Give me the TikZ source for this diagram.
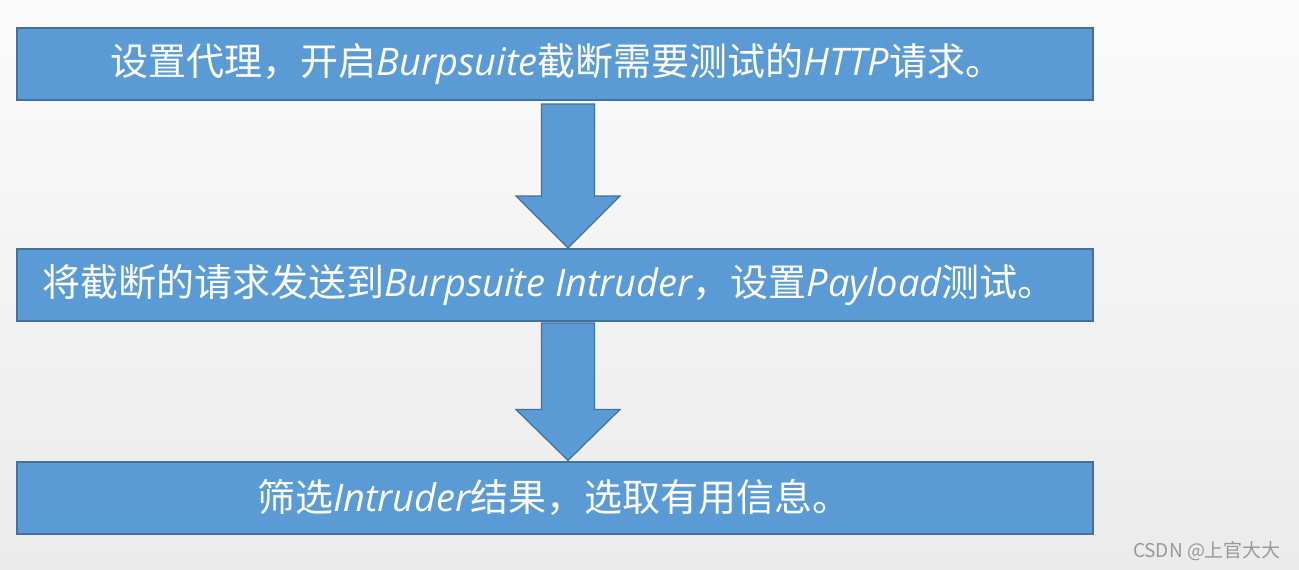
\documentclass[tikz,border=0pt]{standalone}
\usepackage{fontspec}
\setmainfont{Noto Sans CJK SC}
\newfontfamily\enfont{Open Sans}
\newcommand\en[1]{{\enfont\itshape #1}}
\usetikzlibrary{calc}
\definecolor{boxblue}{HTML}{5B9BD5}
\definecolor{boxedge}{HTML}{41719C}
\definecolor{bgtop}{HTML}{FBFBFB}
\definecolor{bgbot}{HTML}{EBEBEB}
\tikzset{
  stepbox/.style={draw=boxedge, line width=2pt, fill=boxblue, minimum width=1076pt, minimum height=72pt, inner sep=0pt, text=white, font=\fontsize{38}{44}\selectfont},
  blockarrow/.style={draw=boxedge, line width=1.2pt, fill=boxblue, line join=miter},
}
\begin{document}
\begin{tikzpicture}[x=1pt,y=-1pt]
\shade[top color=bgtop, middle color=bgtop!60!bgbot, bottom color=bgbot] (0,0) rectangle (1299,570);
\useasboundingbox (0,0) rectangle (1299,570);
\node[stepbox] (t) at (555,64) {\hspace*{4pt}设置代理，开启\en{Burpsuite}截断需要测试的\en{HTTP}请求。};
\node[stepbox] (m) at (555,285) {\hspace*{-12pt}将截断的请求发送到\en{Burpsuite Intruder}，设置\en{Payload}测试。};
\node[stepbox] (b) at (555,497.5) {\hspace*{-2pt}筛选\en{Intruder}结果，选取有用信息。};
\coordinate (a1t) at ($(t.south)+(13,3)$);
\coordinate (a1h) at ($(m.north)+(13,0)$);
\coordinate (a2t) at ($(m.south)+(13,1)$);
\coordinate (a2h) at ($(b.north)+(13,0)$);
\path[blockarrow] ($(a1t)+(-26.5,0)$) -- ($(a1t)+(26.5,0)$) -- ($(a1h)+(26.5,-52)$) -- ($(a1h)+(52,-52)$) -- (a1h) -- ($(a1h)+(-52,-52)$) -- ($(a1h)+(-26.5,-52)$) -- cycle;
\path[blockarrow] ($(a2t)+(-26.5,0)$) -- ($(a2t)+(26.5,0)$) -- ($(a2h)+(26.5,-51)$) -- ($(a2h)+(52,-51)$) -- (a2h) -- ($(a2h)+(-52,-51)$) -- ($(a2h)+(-26.5,-51)$) -- cycle;
\node[text=gray!80, font=\fontsize{19}{22}\selectfont] (wm) at (1207,551) {CSDN @上官大大};
\end{tikzpicture}
\end{document}
